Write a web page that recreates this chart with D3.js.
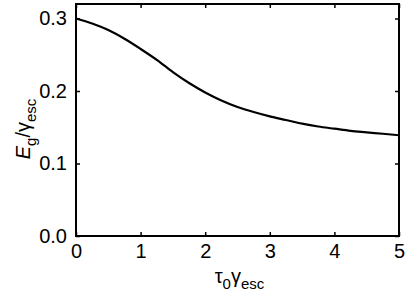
<!DOCTYPE html>
<html>
<head>
<meta charset="utf-8">
<script src="https://cdn.jsdelivr.net/npm/d3@7"></script>
<style>
  body { margin: 0; background: #fff; }
  text { font-family: "Liberation Sans", Arial, sans-serif; fill: #000; }
</style>
</head>
<body>
<svg id="chart" width="409" height="293"></svg>
<script>
// values
var tau = [0, 0.25, 0.5, 0.75, 1, 1.25, 1.5, 1.75, 2, 2.25, 2.5, 2.75, 3, 3.25, 3.5, 3.75, 4, 4.25, 4.5, 4.75, 5];
var eg = [0.300, 0.293, 0.284, 0.272, 0.258, 0.243, 0.226, 0.211, 0.198, 0.187, 0.178, 0.171, 0.165, 0.160, 0.155, 0.151, 0.148, 0.145, 0.143, 0.141, 0.139];
var xTicks = [0, 1, 2, 3, 4, 5];
var yTicks = [0, 0.1, 0.2, 0.3];

var svg = d3.select("#chart"),
    margin = {top: 4, right: 10, bottom: 57, left: 76},
    width = 409 - margin.left - margin.right,
    height = 293 - margin.top - margin.bottom;

var x = d3.scaleLinear().domain([0, 5]).range([margin.left, margin.left + width]);
var y = d3.scaleLinear().domain([0, 0.32]).range([margin.top + height, margin.top]);

var data = tau.map((t, i) => ({t: t, v: eg[i]}));

// ticks inward on all sides
var tk = 4;
svg.append("g")
    .attr("transform", "translate(0," + y(0) + ")")
    .call(d3.axisBottom(x).tickValues(xTicks).tickSize(-tk).tickFormat(d3.format("d")).tickPadding(8))
    .call(g => g.select(".domain").remove())
    .call(g => g.selectAll("text").attr("font-size", 20).attr("font-family", "Liberation Sans, Arial, sans-serif"));

svg.append("g")
    .attr("transform", "translate(0," + margin.top + ")")
    .call(d3.axisTop(x).tickValues(xTicks).tickSize(-tk).tickFormat(""))
    .call(g => g.select(".domain").remove());

svg.append("g")
    .attr("transform", "translate(" + x(0) + ",0)")
    .call(d3.axisLeft(y).tickValues(yTicks).tickSize(-tk).tickFormat(d3.format(".1f")).tickPadding(9))
    .call(g => g.select(".domain").remove())
    .call(g => g.selectAll("text").attr("font-size", 20).attr("font-family", "Liberation Sans, Arial, sans-serif"));

svg.append("g")
    .attr("transform", "translate(" + x(5) + ",0)")
    .call(d3.axisRight(y).tickValues(yTicks).tickSize(-tk).tickFormat(""))
    .call(g => g.select(".domain").remove());

svg.selectAll(".tick line").attr("stroke", "#000").attr("stroke-width", 1.5);

// frame
svg.append("rect")
    .attr("x", x(0)).attr("y", margin.top)
    .attr("width", width).attr("height", height)
    .attr("fill", "none").attr("stroke", "#000").attr("stroke-width", 2);

var line = d3.line()
    .curve(d3.curveMonotoneX)
    .x(d => x(d.t))
    .y(d => y(d.v));

svg.append("path")
    .datum(data)
    .attr("d", line)
    .attr("fill", "none")
    .attr("stroke", "#000")
    .attr("stroke-width", 2.2);

// x label
var xl = svg.append("text")
    .attr("x", x(2.5) + 2).attr("y", 283)
    .attr("text-anchor", "middle")
    .attr("font-size", 20);
xl.append("tspan").text("τ");
xl.append("tspan").attr("dy", 6).attr("font-size", 15).text("0");
xl.append("tspan").attr("dy", -6).text("γ");
xl.append("tspan").attr("dy", 6).attr("font-size", 15).text("esc");

// y label
var yl = svg.append("text")
    .attr("transform", "translate(30," + 129 + ") rotate(-90)")
    .attr("text-anchor", "middle")
    .attr("font-size", 20);
yl.append("tspan").attr("font-style", "italic").text("E");
yl.append("tspan").attr("dy", 6).attr("font-size", 15).text("g");
yl.append("tspan").attr("dy", -6).text("/γ");
yl.append("tspan").attr("dy", 6).attr("font-size", 15).text("esc");
</script>
</body>
</html>
